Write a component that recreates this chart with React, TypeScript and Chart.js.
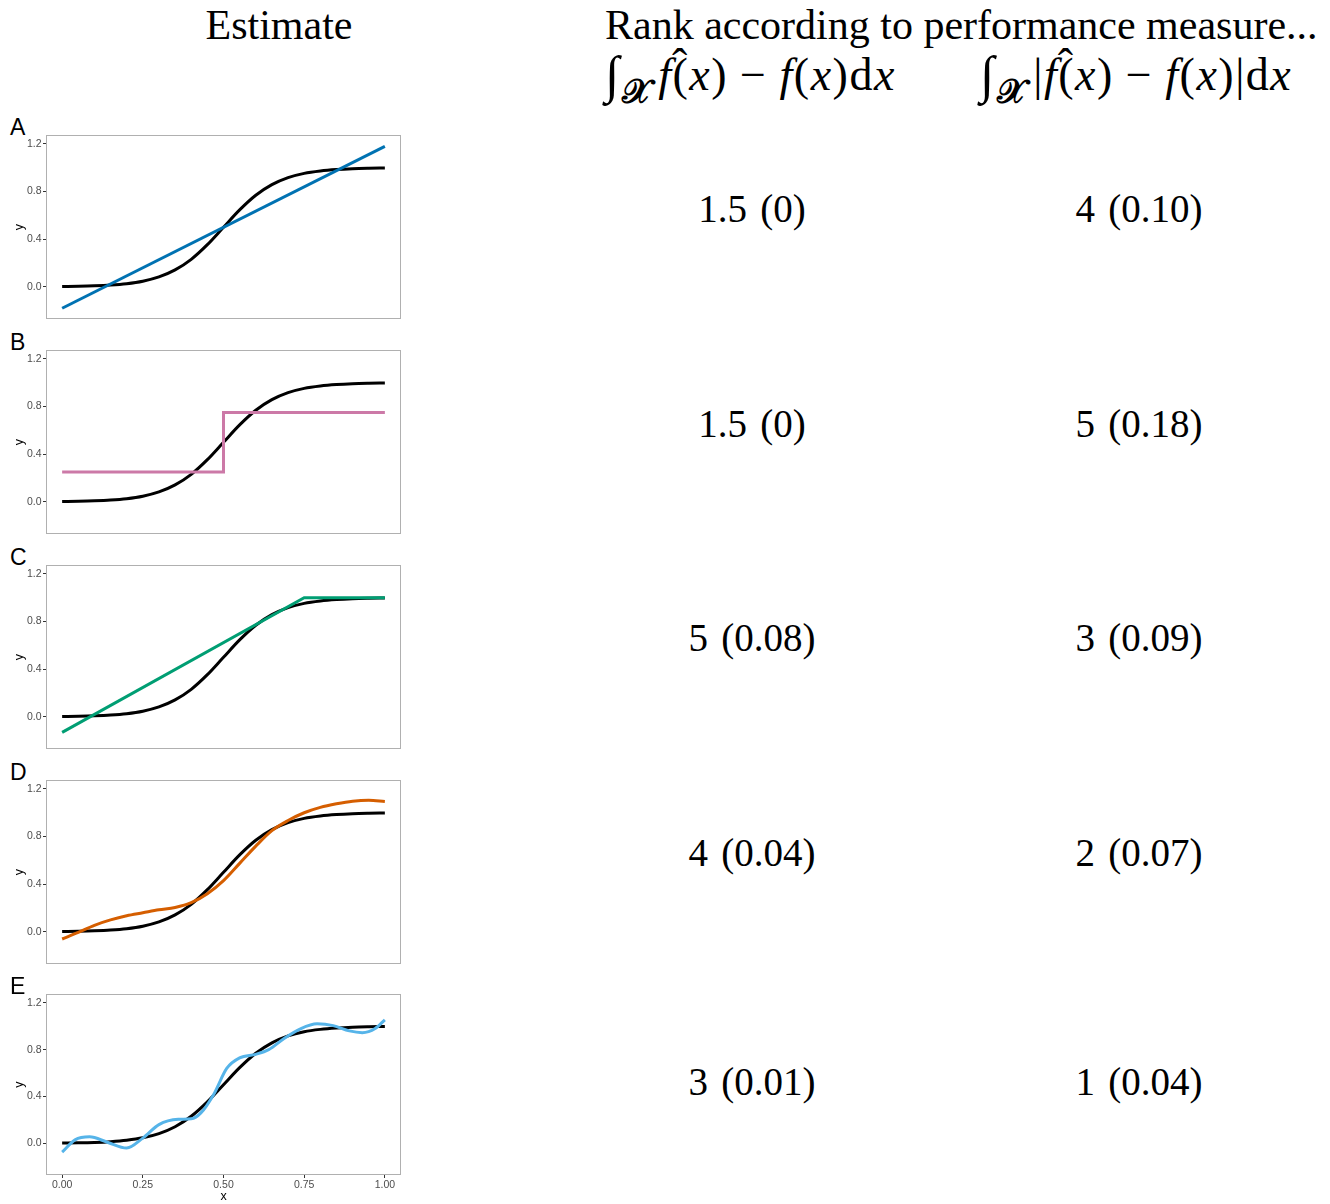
import React, { useEffect, useRef } from "react";
import { Chart, registerables } from "chart.js";

Chart.register(...registerables);

// Shared x grid for the true function and the smooth estimate in panel D
const gridX = [0, 0.05, 0.1, 0.15, 0.2, 0.25, 0.3, 0.35, 0.4, 0.45, 0.5, 0.55, 0.6, 0.65, 0.7, 0.75, 0.8, 0.85, 0.9, 0.95, 1];
const truthY = [0.0025, 0.0045, 0.0082, 0.0148, 0.0266, 0.0474, 0.0832, 0.142, 0.231, 0.354, 0.5, 0.646, 0.769, 0.858, 0.917, 0.953, 0.973, 0.985, 0.992, 0.9955, 0.9975];

// A: straight line fit
const estAX = [0, 1];
const estAY = [-0.18, 1.18];
// B: two-level step
const estBX = [0, 0.5, 0.5, 1];
const estBY = [0.25, 0.25, 0.75, 0.75];
// C: linear ramp then flat
const estCX = [0, 0.75, 1];
const estCY = [-0.13, 1.0, 1.0];
// D: smooth fit on the shared grid
const estDY = [-0.06, -0.005, 0.055, 0.1, 0.135, 0.16, 0.185, 0.205, 0.245, 0.32, 0.43, 0.575, 0.72, 0.85, 0.935, 1.0, 1.045, 1.075, 1.097, 1.105, 1.095];
// E: wiggly fit
const estEX = [0, 0.04, 0.085, 0.14, 0.2, 0.25, 0.3, 0.36, 0.4, 0.43, 0.47, 0.51, 0.55, 0.6, 0.64, 0.69, 0.74, 0.79, 0.84, 0.89, 0.93, 0.97, 1.0];
const estEY = [-0.075, 0.03, 0.056, 0.01, -0.04, 0.045, 0.16, 0.205, 0.21, 0.26, 0.42, 0.64, 0.73, 0.76, 0.8, 0.9, 0.98, 1.02, 1.005, 0.96, 0.945, 0.98, 1.055];

const yTicks = [0, 0.4, 0.8, 1.2];
const xTicks = [0, 0.25, 0.5, 0.75, 1];

const panelLabels = ["A", "B", "C", "D", "E"];
const estColors = ["#0072B2", "#CC79A7", "#009E73", "#D55E00", "#56B4E9"];
const rankSigned = ["1.5 (0)", "1.5 (0)", "5 (0.08)", "4 (0.04)", "3 (0.01)"];
const rankAbs = ["4 (0.10)", "5 (0.18)", "3 (0.09)", "2 (0.07)", "1 (0.04)"];

const estimates = [
  { xs: estAX, ys: estAY, smooth: false },
  { xs: estBX, ys: estBY, smooth: false },
  { xs: estCX, ys: estCY, smooth: false },
  { xs: gridX, ys: estDY, smooth: true },
  { xs: estEX, ys: estEY, smooth: true },
];

// layout of the panels (plot box tops/heights) and of the rank rows
const boxTops = [135, 350, 565, 780, 994];
const boxHeights = [184, 184, 184, 184, 181];
const rowBaselines = [222, 437, 651, 866, 1095];

const SERIF = '"Liberation Serif", "DejaVu Serif", serif';
const SANS = '"Liberation Sans", Arial, sans-serif';

const pts = (xs: number[], ys: number[]) => xs.map((x, i) => ({ x, y: ys[i] }));

const panelBorder = {
  id: "panelBorder",
  beforeDatasetsDraw(chart: any) {
    const { ctx, chartArea } = chart;
    const { left, top, right, bottom } = chartArea;
    ctx.save();
    ctx.strokeStyle = "#b0b0b0";
    ctx.lineWidth = 1;
    ctx.strokeRect(Math.round(left) + 0.5, Math.round(top) + 0.5, Math.round(right - left) - 1, Math.round(bottom - top) - 1);
    ctx.restore();
  },
};

function Panel({ index }: { index: number }) {
  const ref = useRef<HTMLCanvasElement>(null);
  const isLast = index === panelLabels.length - 1;
  const canvasTop = boxTops[index] - 10;
  const canvasHeight = isLast ? 1204 - canvasTop : boxHeights[index] + 20;

  useEffect(() => {
    if (!ref.current) return;
    const est = estimates[index];
    const xScale: any = {
      type: "linear",
      min: -0.05,
      max: 1.05,
      display: isLast,
      afterBuildTicks: (s: any) => {
        s.ticks = xTicks.map((v) => ({ value: v }));
      },
      ticks: {
        padding: 1,
        maxRotation: 0,
        autoSkip: false,
        color: "#4d4d4d",
        font: { family: SANS, size: 10.5 },
        callback: (v: any) => Number(v).toFixed(2),
      },
      grid: { display: true, drawOnChartArea: false, drawTicks: true, tickLength: 3, tickColor: "#333333", tickWidth: 1 },
      border: { display: false },
      title: { display: true, text: "x", color: "#000000", font: { family: SANS, size: 12.5 }, padding: { top: 0, bottom: 0 } },
    };
    if (isLast) {
      xScale.afterFit = (s: any) => {
        s.height = 29;
      };
    }
    const chart = new Chart(ref.current, {
      type: "line",
      data: {
        datasets: [
          {
            data: pts(est.xs, est.ys),
            borderColor: estColors[index],
            borderWidth: 3,
            pointRadius: 0,
            tension: 0,
            cubicInterpolationMode: est.smooth ? "monotone" : "default",
            borderCapStyle: "butt",
            borderJoinStyle: "miter",
            fill: false,
          },
          {
            data: pts(gridX, truthY),
            borderColor: "#000000",
            borderWidth: 3,
            pointRadius: 0,
            cubicInterpolationMode: "monotone",
            borderCapStyle: "butt",
            fill: false,
          },
        ],
      },
      options: {
        animation: false,
        responsive: false,
        devicePixelRatio: 1,
        events: [],
        layout: { padding: { top: 10, right: 9, bottom: isLast ? 0 : 10, left: 0 } },
        plugins: { legend: { display: false }, tooltip: { enabled: false } },
        scales: {
          x: xScale,
          y: {
            type: "linear",
            min: -0.27,
            max: 1.275,
            afterBuildTicks: (s: any) => {
              s.ticks = yTicks.map((v) => ({ value: v }));
            },
            afterFit: (s: any) => {
              s.width = 46;
            },
            ticks: {
              padding: 1.5,
              color: "#4d4d4d",
              font: { family: SANS, size: 10.5 },
              callback: (v: any) => Number(v).toFixed(1),
            },
            grid: { display: true, drawOnChartArea: false, drawTicks: true, tickLength: 3, tickColor: "#333333", tickWidth: 1 },
            border: { display: false },
            title: { display: true, text: "y", color: "#000000", font: { family: SANS, size: 12.5 }, padding: { top: 12, bottom: 0 } },
          },
        },
      },
      plugins: [panelBorder],
    } as any);
    return () => chart.destroy();
  }, [index]);

  return (
    <>
      <div
        style={{
          position: "absolute",
          left: 10,
          top: boxTops[index] - 19.5,
          fontFamily: SANS,
          fontSize: 23,
          lineHeight: "23px",
          color: "#000",
        }}
      >
        {panelLabels[index]}
      </div>
      <canvas
        ref={ref}
        width={410}
        height={canvasHeight}
        style={{ position: "absolute", left: 0, top: canvasTop, width: 410, height: canvasHeight }}
      />
    </>
  );
}

// f with a hat accent
function Hat({ children }: { children: React.ReactNode }) {
  return (
    <span style={{ position: "relative", display: "inline-block" }}>
      {children}
      <span style={{ position: "absolute", left: "0.3em", top: "-0.2em", fontStyle: "normal" }}>ˆ</span>
    </span>
  );
}

// integral over the calligraphic X domain
function Integral() {
  return (
    <>
      <span style={{ fontStyle: "italic", fontSize: 52, position: "relative", top: 2 }}>∫</span>
      <span style={{ fontSize: 34, position: "relative", top: 13, fontWeight: "bold", marginLeft: 1 }}>𝒳</span>
    </>
  );
}

const textBase: React.CSSProperties = {
  position: "absolute",
  fontFamily: SERIF,
  color: "#000",
  whiteSpace: "nowrap",
};

const mathStyle: React.CSSProperties = {
  ...textBase,
  top: 50,
  fontSize: 46,
  lineHeight: "46px",
  letterSpacing: 1.5,
};

const minus = <span style={{ margin: "0 12px" }}>−</span>;

export default function App() {
  return (
    <div style={{ position: "absolute", left: 0, top: 0, width: 1330, height: 1204, overflow: "hidden", background: "#fff" }}>
      <div style={{ ...textBase, left: 129, width: 300, textAlign: "center", top: 4, fontSize: 42, lineHeight: "42px" }}>Estimate</div>
      <div style={{ ...textBase, left: 605, top: 4, fontSize: 42, lineHeight: "42px" }}>Rank according to performance measure...</div>
      <div style={{ ...mathStyle, left: 605 }}>
        <Integral />
        <span style={{ marginLeft: 6 }} />
        <Hat><i>f</i></Hat>(<i>x</i>){minus}<i>f</i>(<i>x</i>)d<i>x</i>
      </div>
      <div style={{ ...mathStyle, left: 980 }}>
        <Integral />
        <span style={{ marginLeft: 6 }} />
        |<Hat><i>f</i></Hat>(<i>x</i>){minus}<i>f</i>(<i>x</i>)|d<i>x</i>
      </div>
      {panelLabels.map((_, i) => (
        <Panel key={i} index={i} />
      ))}
      {rankSigned.map((t, i) => (
        <div
          key={"s" + i}
          style={{ ...textBase, left: 602, width: 300, textAlign: "center", top: rowBaselines[i] - 32.7, fontSize: 39, lineHeight: "39px", wordSpacing: 3.5 }}
        >
          {t}
        </div>
      ))}
      {rankAbs.map((t, i) => (
        <div
          key={"a" + i}
          style={{ ...textBase, left: 989, width: 300, textAlign: "center", top: rowBaselines[i] - 32.7, fontSize: 39, lineHeight: "39px", wordSpacing: 3.5 }}
        >
          {t}
        </div>
      ))}
    </div>
  );
}
